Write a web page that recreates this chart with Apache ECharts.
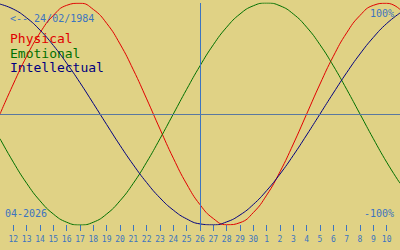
<!DOCTYPE html>
<html>
<head>
<meta charset="utf-8">
<script src="https://cdn.jsdelivr.net/npm/echarts@6/dist/echarts.min.js"></script>
<style>html,body{margin:0;padding:0;background:#e0d285;}#c{width:400px;height:250px;}</style>
</head>
<body>
<div id="c"></div>
<script>
// Dates shown on the x axis (April 11 to May 11, 2026)
var dates = ['04-11','04-12','04-13','04-14','04-15','04-16','04-17','04-18','04-19','04-20',
             '04-21','04-22','04-23','04-24','04-25','04-26','04-27','04-28','04-29','04-30',
             '05-01','05-02','05-03','05-04','05-05','05-06','05-07','05-08','05-09','05-10','05-11'];
var today = '04-26';
var birthLabel = '<-- 24/02/1984';
var monthLabel = '04-2026';
var topLabel = '100%';
var bottomLabel = '-100%';
var seriesNames = ['Physical', 'Emotional', 'Intellectual'];
var seriesColors = ['#e00000', '#007000', '#000080'];

var physical = [0, 0.27, 0.52, 0.731, 0.888, 0.979, 0.998, 0.942, 0.817, 0.631,
                0.398, 0.136, -0.136, -0.398, -0.631, -0.817, -0.942, -0.998, -0.979, -0.888,
                -0.731, -0.52, -0.27, 0, 0.27, 0.52, 0.731, 0.888, 0.979, 0.998, 0.942];
var emotional = [-0.2225, -0.434, -0.624, -0.782, -0.901, -0.975, -1, -0.975, -0.901, -0.782,
                 -0.624, -0.434, -0.2225, 0, 0.2225, 0.434, 0.624, 0.782, 0.901, 0.975,
                 1, 0.975, 0.901, 0.782, 0.624, 0.434, 0.2225, 0, -0.2225, -0.434, -0.624];
var intellectual = [0.990, 0.945, 0.866, 0.756, 0.618, 0.458, 0.282, 0.095, -0.095, -0.282,
                    -0.458, -0.618, -0.756, -0.866, -0.945, -0.990, -0.999, -0.972, -0.910, -0.815,
                    -0.690, -0.541, -0.372, -0.189, 0, 0.189, 0.372, 0.541, 0.690, 0.815, 0.910];

var chart = echarts.init(document.getElementById('c'), null, {renderer: 'svg'});
var mono = "'DejaVu Sans Mono', monospace";
var blue = '#3c74c0';
function showTick(idx) { return idx > 0 && idx < dates.length - 1; }
function lineSeries(name, data, color, extra) {
  var s = {
    name: name, type: 'line', data: data, smooth: true, symbol: 'none',
    lineStyle: {color: color, width: 1}, itemStyle: {color: color}, silent: true, animation: false
  };
  if (extra) for (var k in extra) s[k] = extra[k];
  return s;
}
chart.setOption({
  backgroundColor: '#e0d285',
  animation: false,
  grid: {left: 0, right: 0, top: 3, bottom: 25},
  xAxis: {
    type: 'category', data: dates, boundaryGap: false, position: 'bottom',
    axisLine: {show: false, onZero: false},
    axisTick: {show: true, interval: showTick, length: 6, lineStyle: {color: blue, width: 1}},
    axisLabel: {interval: showTick, margin: 10, color: blue, fontFamily: mono, fontSize: 8,
      formatter: function (v) { return String(parseInt(v.slice(3), 10)); }},
    splitLine: {show: false}
  },
  yAxis: {type: 'value', min: -1, max: 1, show: false, splitLine: {show: false}},
  graphic: [
    {type: 'text', left: 10, top: 13, style: {text: birthLabel, font: '10px ' + mono, fill: blue}},
    {type: 'text', left: 10, top: 32, style: {text: seriesNames[0], font: '13px ' + mono, fill: seriesColors[0]}},
    {type: 'text', left: 10, top: 46.5, style: {text: seriesNames[1], font: '13px ' + mono, fill: seriesColors[1]}},
    {type: 'text', left: 10, top: 60.5, style: {text: seriesNames[2], font: '13px ' + mono, fill: seriesColors[2]}},
    {type: 'text', right: 6, top: 8, style: {text: topLabel, font: '10px ' + mono, fill: blue}},
    {type: 'text', right: 6, top: 208, style: {text: bottomLabel, font: '10px ' + mono, fill: blue}},
    {type: 'text', left: 5, top: 208, style: {text: monthLabel, font: '10px ' + mono, fill: blue}}
  ],
  series: [
    lineSeries(seriesNames[0], physical, seriesColors[0], {
      markLine: {silent: true, symbol: 'none', label: {show: false}, animation: false,
        data: [
          {xAxis: today, lineStyle: {color: blue, width: 1, type: 'solid'}},
          {yAxis: 0, lineStyle: {color: '#5a78a0', width: 1, type: 'solid'}}
        ]}
    }),
    lineSeries(seriesNames[1], emotional, seriesColors[1]),
    lineSeries(seriesNames[2], intellectual, seriesColors[2])
  ]
});
</script>
</body>
</html>
